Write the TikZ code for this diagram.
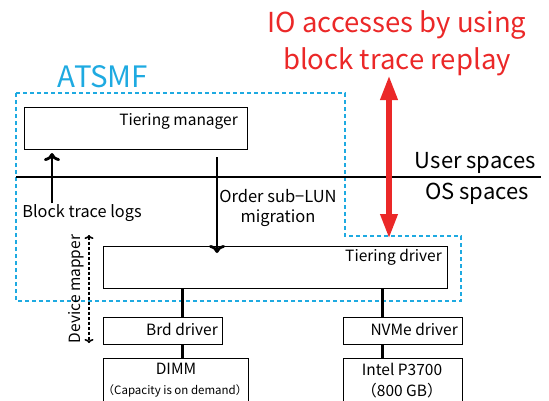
\documentclass[tikz,border=0pt]{standalone}
\usepackage{fontspec}
\setmainfont{Noto Sans CJK JP}
\usetikzlibrary{arrows.meta}
\definecolor{atblue}{RGB}{30,170,225}
\definecolor{atred}{RGB}{235,40,40}
\tikzset{
  box/.style={draw=black, line width=1pt},
  lbl/.style={inner sep=0pt, font=\fontsize{15}{18}\selectfont},
  link/.style={line width=3pt},
  flow/.style={line width=2.8pt, -{To[length=8pt,width=16pt,line width=2.8pt]}},
}
\begin{document}
\begin{tikzpicture}[x=1pt,y=-1pt]
\useasboundingbox (0,0) rectangle (549,400);
% red title
\node[inner sep=0pt, text=atred, align=center, font=\fontsize{27.5}{37}\selectfont] (title) at (397,43) {IO accesses by using\\block trace replay};
% ATSMF
\node[inner sep=0pt, text=atblue, font=\fontsize{29.5}{32}\selectfont] (atsmf) at (103,77) {ATSMF};
\draw[atblue, line width=2pt, dash pattern=on 4pt off 3pt] (16,93) -- (345,93) -- (345,236) -- (461,236) -- (461,301) -- (16,301) -- cycle;
% boundary line
\coordinate (bl) at (16,177);
\coordinate (br) at (541,177);
\draw[line width=2pt] (bl) -- (br);
\node[lbl, font=\fontsize{22}{24}\selectfont, anchor=east] (user) at (536,163) {User spaces};
\node[lbl, font=\fontsize{22}{24}\selectfont, anchor=east] (os) at (529,194) {OS spaces};
% boxes
\node[box, minimum width=223pt, minimum height=42pt, anchor=north west] (tm) at (24,107) {};
\node[lbl, font=\fontsize{15.5}{18}\selectfont, anchor=east] (tmt) at (238,121) {Tiering manager};
\node[box, minimum width=344pt, minimum height=42pt, anchor=north west] (td) at (103,246) {};
\node[lbl, font=\fontsize{15.5}{18}\selectfont, anchor=east] (tdt) at (442,257) {Tiering driver};
\node[box, minimum width=119pt, minimum height=27pt, anchor=north west] (brd) at (103,317) {};
\node[lbl, font=\fontsize{15.5}{18}\selectfont, anchor=east] (brdt) at (218,329) {Brd driver};
\node[box, minimum width=119pt, minimum height=27pt, anchor=north west] (nvme) at (343,317) {};
\node[lbl, font=\fontsize{15.5}{18}\selectfont, anchor=east] (nvmet) at (458,329) {NVMe driver};
\node[box, minimum width=145pt, minimum height=50pt, anchor=north west] (dimm) at (103,358) {};
\node[lbl, font=\fontsize{15.5}{18}\selectfont] (dimmt) at (176,369) {DIMM};
\node[lbl, font=\fontsize{11.5}{13}\selectfont] (dimms) at (175,391) {（Capacity is on demand）};
\node[box, minimum width=119pt, minimum height=50pt, anchor=north west] (intel) at (343,358) {};
\node[lbl, font=\fontsize{15.5}{18}\selectfont] (intelt) at (402,369) {Intel P3700};
\node[lbl, font=\fontsize{15.5}{18}\selectfont] (intels) at (402,391) {（800 GB）};
% links
\draw[link] (td.south -| 182,0) -- (brd.north -| 182,0);
\draw[link] (td.south -| 382,0) -- (nvme.north -| 382,0);
\draw[link] (brd.south -| 182,0) -- (dimm.north -| 182,0);
\draw[link] (nvme.south -| 382,0) -- (intel.north -| 382,0);
% flows
\coordinate (btl) at (52,203);
\draw[flow] (btl) -- ([yshift=-3pt]tm.south -| btl);
\node[lbl, font=\fontsize{16.3}{18}\selectfont] (btlt) at (82,213) {Block trace logs};
\coordinate (osl) at (217,157);
\draw[flow] (osl) -- ([yshift=-7pt]td.north -| osl);
\node[lbl, font=\fontsize{16.5}{20}\selectfont, align=center] (oslt) at (278,208) {Order sub−LUN\\migration};
% red arrow
\coordinate (ra) at (389,75);
\coordinate (rb) at (389,239);
\draw[atred, line width=6.5pt, {Triangle[length=25pt,width=16pt]}-{Triangle[length=25pt,width=16pt]}] (ra) -- (rb);
% device mapper
\coordinate (dma) at (89,235);
\coordinate (dmb) at (89,343);
\draw[line width=1.6pt, dash pattern=on 3pt off 2pt, {To[length=4pt,width=9pt,line width=1.6pt]}-{To[length=4pt,width=9pt,line width=1.6pt]}] (dma) -- (dmb);
\node[lbl, font=\fontsize{15.5}{18}\selectfont, rotate=90] (dmt) at (76,289) {Device mapper};
\end{tikzpicture}
\end{document}
